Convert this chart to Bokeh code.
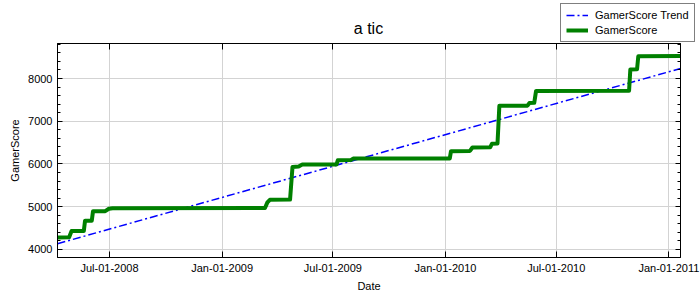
import pandas as pd
from bokeh.plotting import figure
from bokeh.layouts import column
from bokeh.models import (Range1d, FixedTicker, SingleIntervalTicker, DatetimeTickFormatter,
                          DatetimeAxis, LinearAxis, Legend, LegendItem, CustomJSTickFormatter, Label)
from bokeh.embed import file_html
from bokeh.resources import INLINE

# ---- data ----
score_dates = [
    "2008-04-07", "2008-04-26", "2008-04-30", "2008-05-20", "2008-05-22", "2008-06-02",
    "2008-06-04", "2008-06-24", "2008-06-30", "2008-07-06", "2009-03-12", "2009-03-16",
    "2009-03-20", "2009-04-22", "2009-04-26", "2009-05-06", "2009-05-12", "2009-07-07",
    "2009-07-09", "2009-07-30", "2009-08-03", "2010-01-08", "2010-01-10", "2010-02-10",
    "2010-02-14", "2010-03-15", "2010-03-18", "2010-03-27", "2010-03-30", "2010-05-15",
    "2010-05-18", "2010-05-26", "2010-05-29", "2010-10-28", "2010-10-30", "2010-11-10",
    "2010-11-12", "2011-01-20",
]
score_values = [
    4280, 4285, 4430, 4430, 4670, 4670,
    4890, 4895, 4950, 4965, 4970, 5100,
    5160, 5165, 5930, 5940, 5985, 5990,
    6085, 6090, 6125, 6130, 6300, 6305,
    6385, 6390, 6475, 6480, 7360, 7365,
    7425, 7430, 7710, 7715, 8210, 8215,
    8520, 8525,
]
trend_dates = ["2008-04-07", "2011-01-20"]
trend_values = [4133, 8234]

x_tick_dates = ["2008-07-01", "2009-01-01", "2009-07-01", "2010-01-01", "2010-07-01", "2011-01-01"]
x_tick_labels = ["Jul-01-2008", "Jan-01-2009", "Jul-01-2009", "Jan-01-2010", "Jul-01-2010", "Jan-01-2011"]
y_range_limits = [3810, 8820]
series_names = ["GamerScore Trend", "GamerScore"]
chart_title = "a tic"

sd = pd.to_datetime(score_dates)
td = pd.to_datetime(trend_dates)
x_ticks_ms = [pd.Timestamp(d).value / 1e6 for d in x_tick_dates]

FONT = "Liberation Sans"
TREND_STYLE = dict(line_color="#0000ff", line_width=1.5, line_dash="8 3 2 3")
SCORE_STYLE = dict(line_color="#008000", line_width=4, line_join="round")

# ---------- header strip: title + legend ----------
head = figure(width=700, height=43, output_backend="svg", toolbar_location=None,
              x_range=Range1d(0, 1), y_range=Range1d(0, 1),
              x_axis_location=None, y_axis_location=None, frame_align=False,
              min_border_left=0, min_border_right=0, min_border_top=0, min_border_bottom=0)
head.grid.visible = False
head.outline_line_color = None
head.background_fill_color = "white"
head.border_fill_color = "white"

head.add_layout(Label(x=368, y=15, x_units="screen", y_units="screen", text=chart_title,
                      text_align="center", text_baseline="middle", text_font=FONT,
                      text_font_size="16px", text_color="black"))

# same series in the header figure (outside its view) only to feed the legend swatches
h_trend = head.line(td, trend_values, **TREND_STYLE)
h_score = head.line(sd, score_values, **SCORE_STYLE)
legend = Legend(items=[LegendItem(label=series_names[0], renderers=[h_trend]),
                       LegendItem(label=series_names[1], renderers=[h_score])],
                location=(560, 1), padding=5, spacing=3, label_height=10, glyph_height=10,
                glyph_width=22, label_standoff=7, label_text_font=FONT,
                label_text_font_size="11px", label_text_color="black",
                border_line_color="black", border_line_width=1,
                background_fill_color="white", background_fill_alpha=1.0, margin=0)
head.add_layout(legend, "center")

# ---------- main plot ----------
p = figure(width=700, height=257, x_axis_type="datetime", output_backend="svg",
           toolbar_location=None, frame_align=False,
           x_range=Range1d(sd[0], sd[-1]),
           y_range=Range1d(y_range_limits[0], y_range_limits[1]),
           min_border_left=57, min_border_right=20, min_border_top=0, min_border_bottom=43)
p.background_fill_color = "white"
p.border_fill_color = "white"
p.outline_line_color = "black"

xt = FixedTicker(ticks=x_ticks_ms, minor_ticks=[])
yt = SingleIntervalTicker(interval=1000, num_minor_ticks=5)
fmt = DatetimeTickFormatter(years="%b-%d-%Y", months="%b-%d-%Y", days="%b-%d-%Y",
                            hours="%b-%d-%Y", minutes="%b-%d-%Y", seconds="%b-%d-%Y",
                            milliseconds="%b-%d-%Y", microseconds="%b-%d-%Y")
blank = CustomJSTickFormatter(code="return ''")

xa = p.xaxis[0]
xa.ticker = xt
xa.formatter = fmt
ya = p.yaxis[0]
ya.ticker = yt

for ax in (xa, ya):
    ax.major_tick_in = 6
    ax.major_tick_out = 0
    ax.minor_tick_in = 3
    ax.minor_tick_out = 0
    ax.axis_line_color = "black"
    ax.major_tick_line_color = "black"
    ax.minor_tick_line_color = "black"
    ax.major_label_text_font = FONT
    ax.major_label_text_font_size = "11px"
    ax.major_label_text_color = "black"
    ax.major_label_standoff = 4
    ax.axis_label_text_font = FONT
    ax.axis_label_text_font_size = "11px"
    ax.axis_label_text_font_style = "normal"
    ax.axis_label_text_color = "black"
ya.major_tick_in = 5
ya.major_label_standoff = 5
ya.axis_label_standoff = 4
xa.axis_label_standoff = 3
xa.axis_label = "Date"
ya.axis_label = "GamerScore"

top = DatetimeAxis(ticker=xt, formatter=blank, major_tick_in=6, major_tick_out=0,
                   minor_tick_in=0, minor_tick_out=0,
                   major_label_standoff=0, axis_line_color="black")
right = LinearAxis(ticker=yt, formatter=blank, major_tick_in=5, major_tick_out=0, minor_tick_in=3,
                   minor_tick_out=0,
                   major_label_standoff=0, axis_line_color="black")
p.add_layout(top, "above")
p.add_layout(right, "right")

p.xgrid.ticker = xt
p.ygrid.ticker = yt
p.xgrid.grid_line_color = "#d3d3d3"
p.ygrid.grid_line_color = "#d3d3d3"

p.line(td, trend_values, **TREND_STYLE)
p.line(sd, score_values, **SCORE_STYLE)

layout = column(head, p, spacing=0)
open("out.html", "w").write(file_html(layout, INLINE))
